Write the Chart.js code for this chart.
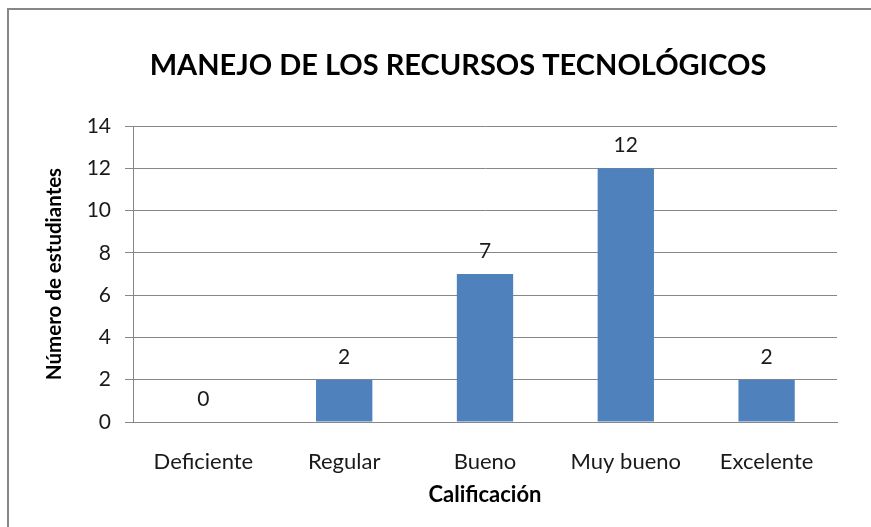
<!DOCTYPE html>
<html>
<head>
<meta charset="utf-8">
<script src="https://cdn.jsdelivr.net/npm/chart.js@4"></script>
<style>
  html, body { margin: 0; padding: 0; background: #fff; overflow: hidden; }
  canvas { display: block; }
</style>
</head>
<body>
<canvas id="myChart" width="871" height="527"></canvas>
<script>
const categories = ['Deficiente', 'Regular', 'Bueno', 'Muy bueno', 'Excelente'];
const students = [0, 2, 7, 12, 2];
const yTicks = [0, 2, 4, 6, 8, 10, 12, 14];
const chartTitle = 'MANEJO DE LOS RECURSOS TECNOLÓGICOS';

const FONT = 'Lato, "Open Sans", sans-serif';

// outer frame (only left and top edges are visible) and the title
const framePlugin = {
    id: 'framePlugin',
    beforeDraw(chart) {
        const ctx = chart.ctx;
        ctx.save();
        ctx.fillStyle = '#fff';
        ctx.fillRect(0, 0, chart.width, chart.height);
        ctx.strokeStyle = '#878787';
        ctx.lineWidth = 2;
        ctx.beginPath();
        ctx.moveTo(8, chart.height);
        ctx.lineTo(8, 9);
        ctx.lineTo(chart.width, 9);
        ctx.stroke();
        ctx.restore();
    },
    afterDraw(chart) {
        const ctx = chart.ctx;
        ctx.save();
        ctx.font = 'bold 29px ' + FONT;
        ctx.fillStyle = '#000';
        ctx.textAlign = 'center';
        ctx.textBaseline = 'alphabetic';
        ctx.fillText(chartTitle, 458, 75);
        ctx.restore();
    }
};

// draw the value above each bar
const valueLabels = {
    id: 'valueLabels',
    afterDatasetsDraw(chart) {
        const ctx = chart.ctx;
        const meta = chart.getDatasetMeta(0);
        ctx.save();
        ctx.font = '21px ' + FONT;
        ctx.fillStyle = '#1a1a1a';
        ctx.textAlign = 'center';
        ctx.textBaseline = 'alphabetic';
        meta.data.forEach((bar, i) => {
            ctx.fillText(String(students[i]), bar.x, bar.y - 16);
        });
        ctx.restore();
    }
};

const ctx = document.getElementById('myChart').getContext('2d');

new Chart(ctx, {
    type: 'bar',
    data: {
        labels: categories,
        datasets: [{
            label: 'Número de estudiantes',
            data: students,
            backgroundColor: '#4F81BD',
            borderWidth: 0,
            categoryPercentage: 1,
            barPercentage: 0.4
        }]
    },
    options: {
        responsive: false,
        animation: false,
        layout: { padding: { left: 0, right: 34, top: 126, bottom: 0 } },
        plugins: {
            legend: { display: false },
            tooltip: { enabled: false },
            title: { display: false }
        },
        scales: {
            x: {
                grid: { display: false, drawTicks: false },
                border: { display: true, color: '#878787', width: 1 },
                ticks: {
                    color: '#1a1a1a',
                    font: { family: FONT, size: 22 },
                    padding: 27
                },
                title: {
                    display: true,
                    text: 'Calificación',
                    color: '#000',
                    font: { family: FONT, size: 22, weight: 'bold', lineHeight: 1.2 },
                    padding: { top: 0, bottom: 19 }
                },
                afterFit(scale) { scale.height = 105; }
            },
            y: {
                min: 0,
                max: 14,
                afterBuildTicks(scale) { scale.ticks = yTicks.map(v => ({ value: v })); },
                grid: { color: '#878787', lineWidth: 1, tickLength: 8, drawTicks: true },
                border: { display: true, color: '#878787', width: 1 },
                ticks: {
                    color: '#1a1a1a',
                    font: { family: FONT, size: 21 },
                    padding: 14
                },
                title: {
                    display: true,
                    text: 'Número de estudiantes',
                    color: '#000',
                    font: { family: FONT, size: 20.5, weight: 'bold', lineHeight: 1.2 },
                    padding: { top: 42, bottom: 0 }
                },
                afterFit(scale) { scale.width = 133; }
            }
        }
    },
    plugins: [framePlugin, valueLabels]
});
</script>
</body>
</html>
